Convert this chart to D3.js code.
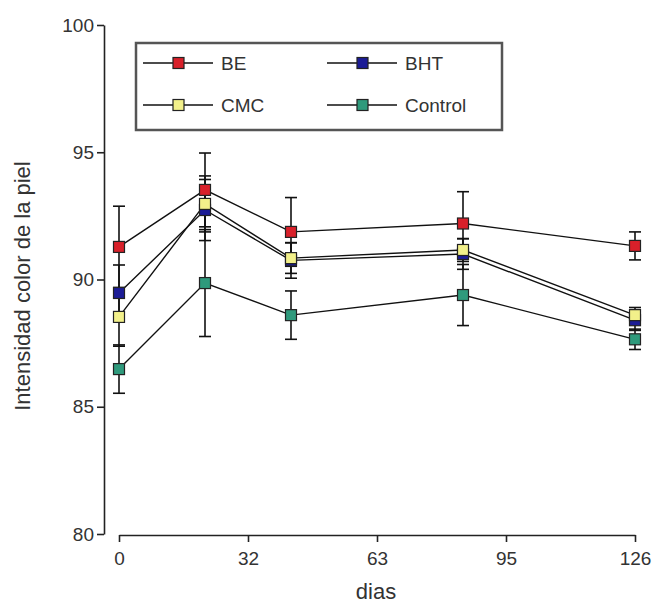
<!DOCTYPE html>
<meta charset="utf-8">
<head>
  <title>Intensidad color de la piel</title>
</head>
<style>
body {
  margin: 0;
  background: white;
  font-family: "Liberation Sans", Arial, sans-serif;
}
svg text {
  fill: #333;
}
</style>
<body>
<div id="chart"></div>
<script src="https://cdnjs.cloudflare.com/ajax/libs/d3/7.8.5/d3.min.js"></script>
<script>
// days of measurement
var days = [0, 21, 42, 84, 126]

// series: mean values and error (sd)
var seriesNames = ["BE", "BHT", "CMC", "Control"]
var seriesColors = ["#d8202a", "#1c1c96", "#f2f08a", "#2f9a7c"]
var valuesBE = [91.28, 93.52, 91.87, 92.2, 91.32]
var valuesBHT = [89.47, 92.73, 90.75, 91.0, 88.4]
var valuesCMC = [88.53, 92.97, 90.84, 91.16, 88.6]
var valuesControl = [86.48, 89.86, 88.6, 89.39, 87.65]
var errBE = [1.6, 1.45, 1.35, 1.25, 0.55]
var errBHT = [1.1, 1.2, 0.7, 0.6, 0.4]
var errCMC = [1.15, 1.1, 0.6, 0.45, 0.3]
var errControl = [0.95, 2.1, 0.95, 1.2, 0.4]

// axis ticks
var xTickValues = [0, 31.5, 63, 94.5, 126]
var xTickLabels = ["0", "32", "63", "95", "126"]
var yTickValues = [80, 85, 90, 95, 100]

var series = [
  {name: seriesNames[0], color: seriesColors[0], values: valuesBE, err: errBE},
  {name: seriesNames[1], color: seriesColors[1], values: valuesBHT, err: errBHT},
  {name: seriesNames[2], color: seriesColors[2], values: valuesCMC, err: errCMC},
  {name: seriesNames[3], color: seriesColors[3], values: valuesControl, err: errControl}
]

var width = 653, height = 604

var svg = d3.select("#chart").append("svg")
  .attr("width", width)
  .attr("height", height)

var x = d3.scaleLinear().domain([0, 126]).range([119, 635])
var y = d3.scaleLinear().domain([80, 100]).range([534, 25])

// y axis (offset from x axis, prism style)
var yAxis = svg.append("g")
  .attr("transform", "translate(104,0)")
  .call(d3.axisLeft(y).tickValues(yTickValues).tickSize(7).tickSizeOuter(0).tickPadding(3))
yAxis.selectAll("text").style("font-size", "19px").style("font-family", "Liberation Sans, Arial, sans-serif").attr("fill", "#333")
yAxis.selectAll("path, line").attr("stroke", "#222").attr("stroke-width", 1.6)

// x axis
var xAxis = svg.append("g")
  .attr("transform", "translate(0,535)")
  .call(d3.axisBottom(x).tickValues(xTickValues)
    .tickFormat(function(d, i) { return xTickLabels[i] })
    .tickSize(7).tickSizeOuter(0).tickPadding(10))
xAxis.selectAll("text").style("font-size", "19px").style("font-family", "Liberation Sans, Arial, sans-serif").attr("fill", "#333")
xAxis.selectAll("path, line").attr("stroke", "#222").attr("stroke-width", 1.6)

// axis titles
svg.append("text")
  .attr("transform", "translate(30,286) rotate(-90)")
  .attr("text-anchor", "middle")
  .style("font-size", "22px")
  .text("Intensidad color de la piel")

svg.append("text")
  .attr("x", 376)
  .attr("y", 599)
  .attr("text-anchor", "middle")
  .style("font-size", "22px")
  .text("dias")

// error bars
series.forEach(function(s) {
  var g = svg.append("g")
  days.forEach(function(d, i) {
    var cx = x(d)
    var top = y(s.values[i] + s.err[i])
    var bot = y(s.values[i] - s.err[i])
    g.append("line").attr("x1", cx).attr("x2", cx).attr("y1", top).attr("y2", bot)
      .attr("stroke", "#111").attr("stroke-width", 1.6)
    g.append("line").attr("x1", cx - 6).attr("x2", cx + 6).attr("y1", top).attr("y2", top)
      .attr("stroke", "#111").attr("stroke-width", 1.6)
    g.append("line").attr("x1", cx - 6).attr("x2", cx + 6).attr("y1", bot).attr("y2", bot)
      .attr("stroke", "#111").attr("stroke-width", 1.6)
  })
})

// lines
var line = d3.line()
  .x(function(d, i) { return x(days[i]) })
  .y(function(d) { return y(d) })

series.forEach(function(s) {
  svg.append("path")
    .datum(s.values)
    .attr("d", line)
    .attr("fill", "none")
    .attr("stroke", "#111")
    .attr("stroke-width", 1.4)
})

// markers
series.forEach(function(s) {
  svg.append("g").selectAll("rect")
    .data(s.values)
    .enter()
    .append("rect")
    .attr("x", function(d, i) { return x(days[i]) - 5.5 })
    .attr("y", function(d) { return y(d) - 5.5 })
    .attr("width", 11)
    .attr("height", 11)
    .attr("fill", s.color)
    .attr("stroke", "#222")
    .attr("stroke-width", 1.2)
})

// legend
var legend = svg.append("g")
svg.insert("rect", ":first-child")
  .attr("x", 136).attr("y", 43)
  .attr("width", 366).attr("height", 87)
  .attr("fill", "white")
  .attr("stroke", "#555")
  .attr("stroke-width", 2.5)

var legendPos = [[143, 63], [327, 63], [143, 105], [327, 105]]
series.forEach(function(s, i) {
  var lx = legendPos[i][0], ly = legendPos[i][1]
  legend.append("line")
    .attr("x1", lx).attr("x2", lx + 70).attr("y1", ly).attr("y2", ly)
    .attr("stroke", "#111").attr("stroke-width", 1.4)
  legend.append("rect")
    .attr("x", lx + 30).attr("y", ly - 5.5)
    .attr("width", 11).attr("height", 11)
    .attr("fill", s.color).attr("stroke", "#222").attr("stroke-width", 1.2)
  legend.append("text")
    .attr("x", lx + 78).attr("y", ly + 7)
    .style("font-size", "19px")
    .text(s.name)
})
</script>
</body>
</html>
